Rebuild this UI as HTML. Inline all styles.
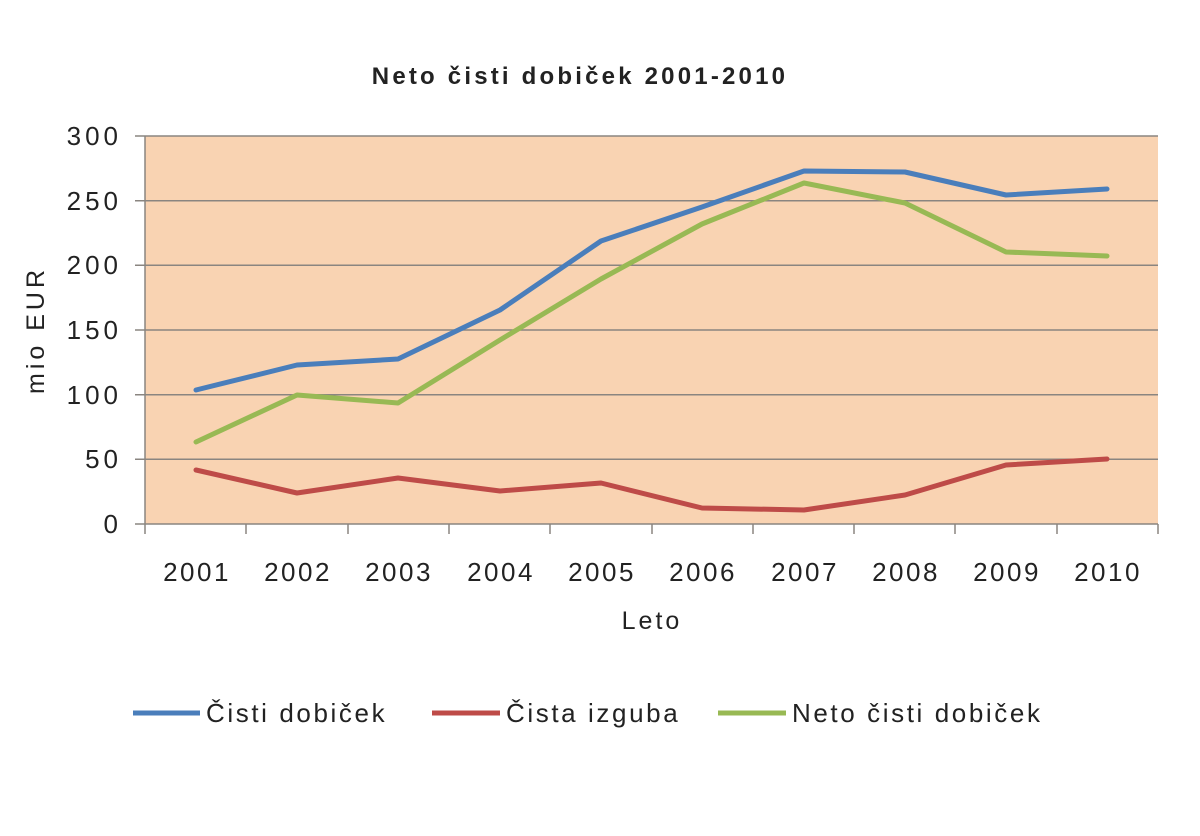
<!DOCTYPE html>
<html><head><meta charset="utf-8"><style>
html,body{margin:0;padding:0;background:#fff;}
svg text{font-family:"Liberation Sans",sans-serif;fill:#222;}
</style></head><body>
<svg width="1200" height="831" viewBox="0 0 1200 831" xmlns="http://www.w3.org/2000/svg">
<text x="580" y="84" font-size="24" font-weight="bold" text-anchor="middle" letter-spacing="3.2">Neto čisti dobiček 2001-2010</text>
<rect x="145" y="136" width="1013" height="388" fill="#F9D3B2"/>
<g stroke="#8a8580" stroke-width="1.5">
<line x1="135" y1="136" x2="1158" y2="136"/>
<line x1="135" y1="200.7" x2="1158" y2="200.7"/>
<line x1="135" y1="265.3" x2="1158" y2="265.3"/>
<line x1="135" y1="330" x2="1158" y2="330"/>
<line x1="135" y1="394.7" x2="1158" y2="394.7"/>
<line x1="135" y1="459.3" x2="1158" y2="459.3"/>
<line x1="135" y1="524" x2="1158" y2="524"/>
<line x1="145" y1="136" x2="145" y2="534"/>
<line x1="246" y1="524" x2="246" y2="534"/><line x1="348" y1="524" x2="348" y2="534"/>
<line x1="449" y1="524" x2="449" y2="534"/><line x1="550" y1="524" x2="550" y2="534"/>
<line x1="652" y1="524" x2="652" y2="534"/><line x1="753" y1="524" x2="753" y2="534"/>
<line x1="854" y1="524" x2="854" y2="534"/><line x1="955" y1="524" x2="955" y2="534"/>
<line x1="1057" y1="524" x2="1057" y2="534"/><line x1="1158" y1="524" x2="1158" y2="534"/>
</g>
<g font-size="26" text-anchor="end" letter-spacing="4">
<text x="122" y="145">300</text><text x="122" y="210">250</text><text x="122" y="274">200</text>
<text x="122" y="339">150</text><text x="122" y="404">100</text><text x="122" y="468">50</text><text x="122" y="533">0</text>
</g>
<g font-size="26" text-anchor="middle" letter-spacing="2.5">
<text x="197" y="581">2001</text><text x="298" y="581">2002</text><text x="399" y="581">2003</text>
<text x="501" y="581">2004</text><text x="602" y="581">2005</text><text x="703" y="581">2006</text>
<text x="805" y="581">2007</text><text x="906" y="581">2008</text><text x="1007" y="581">2009</text>
<text x="1108" y="581">2010</text>
<text x="652" y="629" font-size="25" letter-spacing="3">Leto</text>
</g>
<text transform="translate(44,330) rotate(-90)" font-size="25" text-anchor="middle" letter-spacing="4">mio EUR</text>
<g fill="none" stroke-width="5" stroke-linejoin="round" stroke-linecap="round">
<polyline stroke="#4A7EBB" points="196,390 297,365 398,359 500,310 601,241 702,207 804,171 905,172 1006,195 1107,189"/>
<polyline stroke="#BE4B48" points="196,470 297,493 398,478 500,491 601,483 702,508 804,510 905,495 1006,465 1107,459"/>
<polyline stroke="#98B954" points="196,442 297,395 398,403 500,340 601,279 702,224 804,183 905,203 1006,252 1107,256"/>
</g>
<g stroke-width="5">
<line x1="133" y1="713" x2="200" y2="713" stroke="#4A7EBB"/>
<line x1="432" y1="713" x2="500" y2="713" stroke="#BE4B48"/>
<line x1="718" y1="713" x2="786" y2="713" stroke="#98B954"/>
</g>
<g font-size="26" letter-spacing="2.6">
<text x="206" y="722">Čisti dobiček</text>
<text x="506" y="722">Čista izguba</text>
<text x="792" y="722">Neto čisti dobiček</text>
</g>
</svg>
</body></html>
